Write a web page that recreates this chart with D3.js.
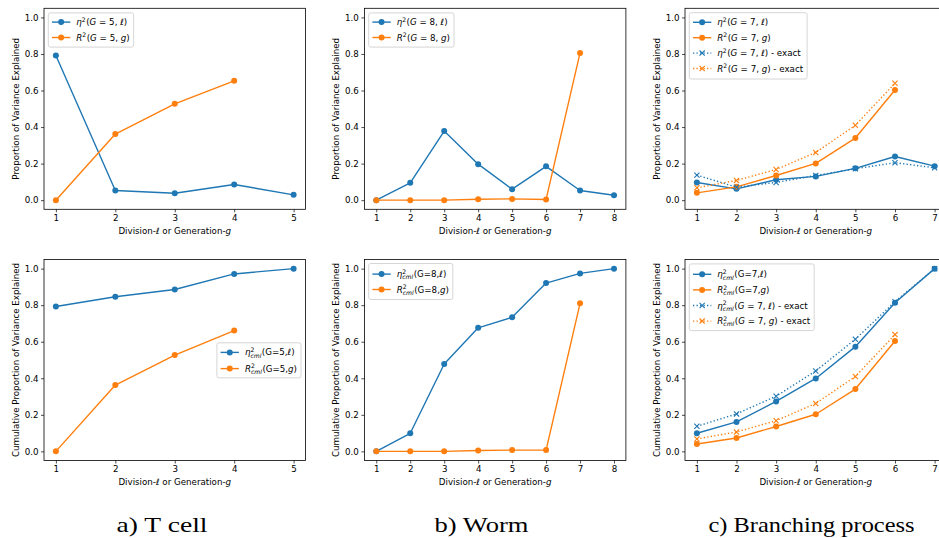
<!DOCTYPE html>
<html><head><meta charset="utf-8">
<script src="https://cdn.jsdelivr.net/npm/d3@7/dist/d3.min.js"></script>
<style>
html,body{margin:0;padding:0;background:#fff;overflow:hidden}
svg text{white-space:pre;font-family:"DejaVu Sans",sans-serif;fill:#000}
</style></head>
<body>
<svg id="chart" width="939" height="538"></svg>
<script>
// ---------------- data ----------------
const aX = [1, 2, 3, 4, 5];
const aEta = [0.792, 0.053, 0.038, 0.086, 0.029];
const aR = [0.0, 0.362, 0.527, 0.653];
const aEtaCml = [0.793, 0.846, 0.886, 0.971, 1.0];
const aRCml = [0.0, 0.363, 0.527, 0.661];

const bX = [1, 2, 3, 4, 5, 6, 7, 8];
const bEta = [0.0, 0.095, 0.378, 0.197, 0.060, 0.185, 0.053, 0.027];
const bR = [0.0, 0.0, 0.0, 0.005, 0.007, 0.004, 0.806];
const bEtaCml = [0.0, 0.099, 0.478, 0.676, 0.734, 0.921, 0.974, 1.0];
const bRCml = [0.0, 0.0, 0.0, 0.005, 0.007, 0.007, 0.810];

const cX = [1, 2, 3, 4, 5, 6, 7];
const cEta = [0.097, 0.062, 0.112, 0.130, 0.174, 0.239, 0.186];
const cR = [0.040, 0.073, 0.135, 0.201, 0.340, 0.603];
const cEtaExact = [0.137, 0.071, 0.097, 0.135, 0.172, 0.205, 0.177];
const cRExact = [0.068, 0.108, 0.168, 0.261, 0.410, 0.640];
const cEtaCml = [0.099, 0.161, 0.273, 0.399, 0.573, 0.813, 1.0];
const cRCml = [0.040, 0.073, 0.136, 0.203, 0.341, 0.604];
const cEtaCmlExact = [0.137, 0.205, 0.302, 0.440, 0.614, 0.819, 1.0];
const cRCmlExact = [0.068, 0.106, 0.168, 0.262, 0.410, 0.639];

const yTicks = [0.0, 0.2, 0.4, 0.6, 0.8, 1.0];
const captions = ["a) T cell", "b) Worm", "c) Branching process"];
const yLabelTop = "Proportion of Variance Explained";
const yLabelBottom = "Cumulative Proportion of Variance Explained";

// ---------------- styling ----------------
const BLUE = "#1f77b4", ORANGE = "#ff7f0e";
const FS = 8.7;
const LW = 1.4;
const svg = d3.select("#chart");

// rich text: segments {t, i} or {sup, sub, subI}
function rich(g, x, y, segs, size) {
  let cx = x;
  segs.forEach(s => {
    if (s.sup !== undefined || s.sub !== undefined) {
      let w = 0;
      if (s.sup !== undefined) {
        const t = g.append("text").attr("x", cx).attr("y", y - size * 0.4)
          .attr("font-size", size * 0.7).text(s.sup);
        w = Math.max(w, t.node().getComputedTextLength());
      }
      if (s.sub !== undefined) {
        const t = g.append("text").attr("x", cx).attr("y", y + size * 0.25)
          .attr("font-size", size * 0.7).style("font-style", s.subI ? "italic" : "normal").text(s.sub);
        w = Math.max(w, t.node().getComputedTextLength());
      }
      cx += w + 0.5;
    } else {
      const t = g.append("text").attr("x", cx).attr("y", y).attr("font-size", size)
        .style("font-style", s.i ? "italic" : "normal").text(s.t);
      cx += t.node().getComputedTextLength();
    }
  });
  return cx - x;
}

function xMarker(g, x, y, color) {
  const a = 2.6;
  g.append("path").attr("d", `M${x - a},${y - a}L${x + a},${y + a}M${x - a},${y + a}L${x + a},${y - a}`)
    .attr("stroke", color).attr("stroke-width", 1.1).attr("fill", "none");
}

function drawPanel(opt) {
  const { left, top, width, height, xs, series, yLabel, legend } = opt;
  const nMax = d3.max(xs);
  const span = nMax - 1;
  const x = d3.scaleLinear().domain([1 - 0.05 * span, nMax + 0.05 * span]).range([left, left + width]);
  const y = d3.scaleLinear().domain([-0.05, 1.05]).range([top + height, top]);
  const g = svg.append("g");

  // axes
  const xa = g.append("g").attr("transform", `translate(0,${top + height})`)
    .call(d3.axisBottom(x).tickValues(xs).tickFormat(d3.format("d")).tickSize(3).tickPadding(2.5));
  const ya = g.append("g").attr("transform", `translate(${left},0)`)
    .call(d3.axisLeft(y).tickValues(yTicks).tickFormat(d3.format(".1f")).tickSize(3).tickPadding(2.5));
  [xa, ya].forEach(a => {
    a.select(".domain").remove();
    a.selectAll(".tick line").attr("stroke", "#000").attr("stroke-width", 0.7);
    a.selectAll(".tick text").attr("font-size", FS).attr("font-family", "DejaVu Sans").attr("fill", "#000");
  });

  // series
  const clip = "clip" + Math.round(left) + "_" + Math.round(top);
  svg.append("clipPath").attr("id", clip).append("rect")
    .attr("x", left).attr("y", top).attr("width", width).attr("height", height);
  const plot = g.append("g").attr("clip-path", `url(#${clip})`);
  series.forEach(s => {
    const pts = s.values.map((v, i) => [xs[i], v]);
    const line = d3.line().x(d => x(d[0])).y(d => y(d[1]));
    const p = plot.append("path").attr("d", line(pts)).attr("fill", "none")
      .attr("stroke", s.color).attr("stroke-width", LW).attr("stroke-linejoin", "round");
    if (s.dotted) p.attr("stroke-dasharray", "1.3,2.2");
    pts.forEach(d => {
      if (s.marker === "x") xMarker(plot, x(d[0]), y(d[1]), s.color);
      else plot.append("circle").attr("cx", x(d[0])).attr("cy", y(d[1])).attr("r", 3).attr("fill", s.color);
    });
  });

  // frame
  g.append("rect").attr("x", left).attr("y", top).attr("width", width).attr("height", height)
    .attr("fill", "none").attr("stroke", "#000").attr("stroke-width", 0.8);

  // labels
  const xl = g.append("text").attr("x", left + width / 2).attr("y", top + height + 24.8)
    .attr("font-size", FS).attr("text-anchor", "middle");
  xl.append("tspan").text("Division-");
  xl.append("tspan").style("font-style", "italic").text("ℓ");
  xl.append("tspan").text(" or Generation-");
  xl.append("tspan").style("font-style", "italic").text("g");
  g.append("text").attr("transform", `translate(${left - 25.3},${top + height / 2}) rotate(-90)`)
    .attr("font-size", FS).attr("text-anchor", "middle").text(yLabel);

  // legend
  const lg = g.append("g");
  const rowH = legend.rowH, first = legend.first;
  const boxH = legend.boxH;
  const items = lg.append("g");
  let maxW = 0;
  legend.items.forEach((it, i) => {
    const cy = first + i * rowH;
    const w = rich(items, 28, cy + 3.1, it.segs, FS);
    maxW = Math.max(maxW, w);
    const hl = items.append("line").attr("x1", 3.7).attr("x2", 22).attr("y1", cy).attr("y2", cy)
      .attr("stroke", it.color).attr("stroke-width", LW);
    if (it.dotted) hl.attr("stroke-dasharray", "1.3,2.2");
    if (it.marker === "x") xMarker(items, 12.85, cy, it.color);
    else items.append("circle").attr("cx", 12.85).attr("cy", cy).attr("r", 3).attr("fill", it.color);
  });
  const boxW = 28 + maxW + 4;
  lg.insert("rect", ":first-child").attr("x", 0).attr("y", 0).attr("width", boxW).attr("height", boxH)
    .attr("rx", 2).attr("fill", "#fff").attr("fill-opacity", 0.8).attr("stroke", "#cccccc").attr("stroke-width", 0.8);
  let lx = legend.anchor === "right" ? left + width - 4.5 - boxW : left + 4.3;
  lg.attr("transform", `translate(${lx},${legend.y})`);
}

// legend label builders
const eta = (G, exact) => {
  const s = [{ t: "η", i: true }, { sup: "2" }, { t: "(" }, { t: "G", i: true }, { t: ` = ${G}, ` }, { t: "ℓ", i: true }, { t: ")" }];
  if (exact) s.push({ t: " - exact" });
  return s;
};
const rr = (G, exact) => {
  const s = [{ t: "R", i: true }, { sup: "2" }, { t: "(" }, { t: "G", i: true }, { t: ` = ${G}, ` }, { t: "g", i: true }, { t: ")" }];
  if (exact) s.push({ t: " - exact" });
  return s;
};
const etaC = (G) => [{ t: "η", i: true }, { sup: "2", sub: "cml", subI: true }, { t: `(G=${G},` }, { t: "ℓ", i: true }, { t: ")" }];
const rrC = (G) => [{ t: "R", i: true }, { sup: "2", sub: "cml", subI: true }, { t: `(G=${G},` }, { t: "g", i: true }, { t: ")" }];
const etaCE = (G) => [{ t: "η", i: true }, { sup: "2", sub: "cml", subI: true }, { t: "(" }, { t: "G", i: true }, { t: ` = ${G}, ` }, { t: "ℓ", i: true }, { t: ")" }, { t: " - exact" }];
const rrCE = (G) => [{ t: "R", i: true }, { sup: "2", sub: "cml", subI: true }, { t: "(" }, { t: "G", i: true }, { t: ` = ${G}, ` }, { t: "g", i: true }, { t: ")" }, { t: " - exact" }];

const lefts = [44, 364.4, 685];
const W = 261.5, TOPY = 8.3, BOTY = 259.5, H = 201;

const solid = (values, color) => ({ values, color });
const exact = (values, color) => ({ values, color, dotted: true, marker: "x" });

// a) top / bottom
drawPanel({ left: lefts[0], top: TOPY, width: W, height: H, xs: aX, yLabel: yLabelTop,
  series: [solid(aEta, BLUE), solid(aR, ORANGE)],
  legend: { y: TOPY + 4.6, first: 9.2, rowH: 15.4, boxH: 34.2,
    items: [{ segs: eta(5), color: BLUE }, { segs: rr(5), color: ORANGE }] } });
drawPanel({ left: lefts[0], top: BOTY, width: W, height: H, xs: aX, yLabel: yLabelBottom,
  series: [solid(aEtaCml, BLUE), solid(aRCml, ORANGE)],
  legend: { anchor: "right", y: 342.8, first: 9.6, rowH: 16.2, boxH: 35,
    items: [{ segs: etaC(5), color: BLUE }, { segs: rrC(5), color: ORANGE }] } });

// b)
drawPanel({ left: lefts[1], top: TOPY, width: W, height: H, xs: bX, yLabel: yLabelTop,
  series: [solid(bEta, BLUE), solid(bR, ORANGE)],
  legend: { y: TOPY + 4.6, first: 9.2, rowH: 15.4, boxH: 34.2,
    items: [{ segs: eta(8), color: BLUE }, { segs: rr(8), color: ORANGE }] } });
drawPanel({ left: lefts[1], top: BOTY, width: W, height: H, xs: bX, yLabel: yLabelBottom,
  series: [solid(bEtaCml, BLUE), solid(bRCml, ORANGE)],
  legend: { y: BOTY + 4, first: 10.6, rowH: 15.4, boxH: 36,
    items: [{ segs: etaC(8), color: BLUE }, { segs: rrC(8), color: ORANGE }] } });

// c)
drawPanel({ left: lefts[2], top: TOPY, width: W, height: H, xs: cX, yLabel: yLabelTop,
  series: [solid(cEta, BLUE), solid(cR, ORANGE), exact(cEtaExact, BLUE), exact(cRExact, ORANGE)],
  legend: { y: TOPY + 4.4, first: 9.6, rowH: 15.4, boxH: 66.3,
    items: [{ segs: eta(7), color: BLUE }, { segs: rr(7), color: ORANGE },
            { segs: eta(7, true), color: BLUE, dotted: true, marker: "x" },
            { segs: rr(7, true), color: ORANGE, dotted: true, marker: "x" }] } });
drawPanel({ left: lefts[2], top: BOTY, width: W, height: H, xs: cX, yLabel: yLabelBottom,
  series: [solid(cEtaCml, BLUE), solid(cRCml, ORANGE), exact(cEtaCmlExact, BLUE), exact(cRCmlExact, ORANGE)],
  legend: { y: BOTY + 4.4, first: 10.4, rowH: 15.6, boxH: 66.7,
    items: [{ segs: etaC(7), color: BLUE }, { segs: rrC(7), color: ORANGE },
            { segs: etaCE(7), color: BLUE, dotted: true, marker: "x" },
            { segs: rrCE(7), color: ORANGE, dotted: true, marker: "x" }] } });

// captions
const capX = [162, 481.5, 811.5], capW = [91, 94, 206];
captions.forEach((c, i) => {
  svg.append("text").attr("x", capX[i] - capW[i] / 2).attr("y", 531.5)
    .style("font-family", "'Liberation Serif', 'DejaVu Serif', serif").attr("font-size", 22)
    .attr("textLength", capW[i]).attr("lengthAdjust", "spacingAndGlyphs").text(c);
});
</script>
</body></html>
